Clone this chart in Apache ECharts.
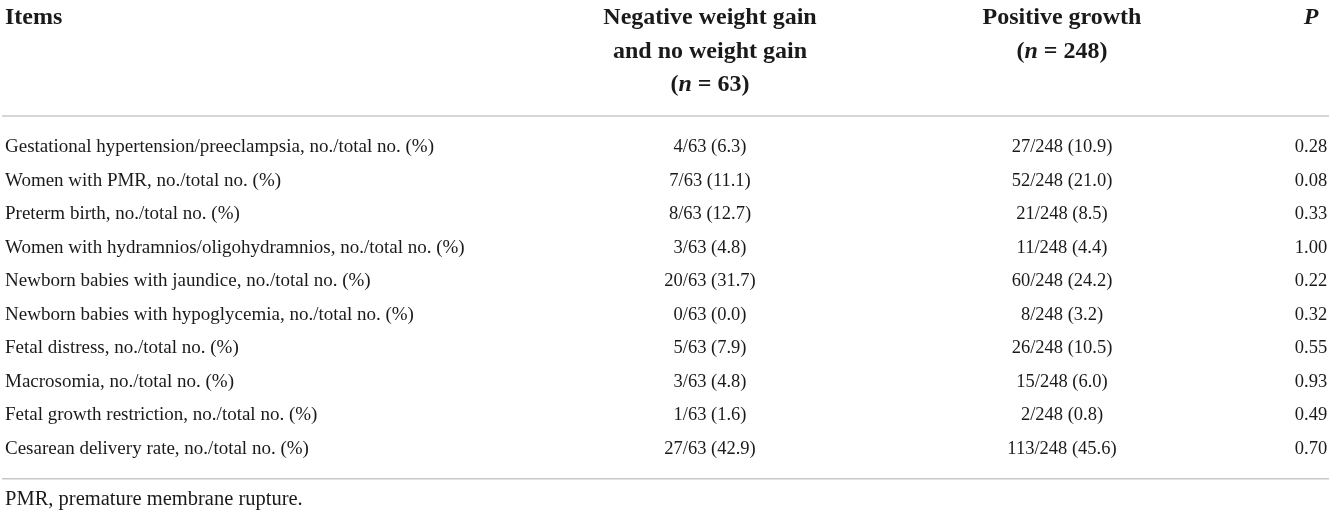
<!DOCTYPE html>
<html lang="en">

<head>
    <meta charset="utf-8">
    <title>weight gain table</title>
    <style>
        html, body {
            margin: 0;
            padding: 0;
            background-color: #ffffff;
        }
    </style>
</head>

<body>
    <div id="main" style="width: 1334px;height:515px;"></div>
    <script src="https://cdn.jsdelivr.net/npm/echarts@6/dist/echarts.min.js"></script>

    <script>
        var myChart = echarts.init(document.getElementById('main'));

        // table content
        var items = [
            'Gestational hypertension/preeclampsia, no./total no. (%)',
            'Women with PMR, no./total no. (%)',
            'Preterm birth, no./total no. (%)',
            'Women with hydramnios/oligohydramnios, no./total no. (%)',
            'Newborn babies with jaundice, no./total no. (%)',
            'Newborn babies with hypoglycemia, no./total no. (%)',
            'Fetal distress, no./total no. (%)',
            'Macrosomia, no./total no. (%)',
            'Fetal growth restriction, no./total no. (%)',
            'Cesarean delivery rate, no./total no. (%)'
        ];
        var negativeGroup = [
            '4/63 (6.3)', '7/63 (11.1)', '8/63 (12.7)', '3/63 (4.8)', '20/63 (31.7)',
            '0/63 (0.0)', '5/63 (7.9)', '3/63 (4.8)', '1/63 (1.6)', '27/63 (42.9)'
        ];
        var positiveGroup = [
            '27/248 (10.9)', '52/248 (21.0)', '21/248 (8.5)', '11/248 (4.4)', '60/248 (24.2)',
            '8/248 (3.2)', '26/248 (10.5)', '15/248 (6.0)', '2/248 (0.8)', '113/248 (45.6)'
        ];
        var pValues = ['0.28', '0.08', '0.33', '1.00', '0.22', '0.32', '0.55', '0.93', '0.49', '0.70'];

        var headItems = ['Items'];
        var headNegative = ['Negative weight gain', 'and no weight gain', '({i|n} = 63)'];
        var headPositive = ['Positive growth', '({i|n} = 248)'];
        var headP = ['{i|P}'];
        var footnote = 'PMR, premature membrane rupture.';

        // layout: x in page px, y in row units (row 0 = first header line)
        var colX = [5, 710, 1062, 1311];
        var firstRow = 3.86;
        var headRule = 2.93;
        var footRule = 13.76;
        var footRow = 14.39;

        var font = '"Liberation Serif", "Times New Roman", serif';
        var ink = '#1a1a1a';

        function column(x, texts, start) {
            return texts.map(function (t, i) {
                return [x, start + i, t];
            });
        }

        var headData = [].concat(
            column(colX[1], headNegative, 0),
            column(colX[2], headPositive, 0),
            column(colX[3], headP, 0)
        );
        var bodyData = [].concat(
            column(colX[1], negativeGroup, firstRow),
            column(colX[2], positiveGroup, firstRow),
            column(colX[3], pValues, firstRow)
        );

        function textSeries(data, weight, size, pos) {
            return {
                type: 'scatter',
                data: data,
                symbolSize: 0,
                silent: true,
                itemStyle: {
                    opacity: 1
                },
                label: {
                    show: true,
                    position: pos,
                    distance: 0,
                    color: ink,
                    opacity: 1,
                    fontFamily: font,
                    fontSize: size,
                    fontWeight: weight,
                    formatter: function (p) {
                        return p.value[2];
                    },
                    rich: {
                        i: {
                            fontFamily: font,
                            fontSize: size,
                            fontWeight: weight,
                            fontStyle: 'italic',
                            color: ink
                        }
                    }
                }
            };
        }

        function rule(y) {
            return {
                type: 'line',
                data: [[2, y], [1329, y]],
                symbol: 'none',
                silent: true,
                lineStyle: {
                    color: '#c8c8c8',
                    width: 1.5
                }
            };
        }

        option = {
            backgroundColor: '#ffffff',
            animation: false,
            grid: {
                left: 0,
                right: 0,
                top: 0,
                bottom: 0
            },
            xAxis: {
                type: 'value',
                min: 0,
                max: 1334,
                show: false
            },
            yAxis: {
                type: 'value',
                min: -0.537,
                max: 14.84,
                inverse: true,
                show: false
            },
            series: [
                rule(headRule),
                rule(footRule),
                textSeries(column(colX[0], headItems, 0), 'bold', 24, 'right'),
                textSeries(headData, 'bold', 24, 'inside'),
                textSeries(bodyData, 'normal', 18.5, 'inside'),
                textSeries(column(colX[0], items, firstRow), 'normal', 19, 'right'),
                textSeries([[colX[0], footRow, footnote]], 'normal', 20.5, 'right')
            ]
        };

        myChart.setOption(option);
    </script>

</body>

</html>
